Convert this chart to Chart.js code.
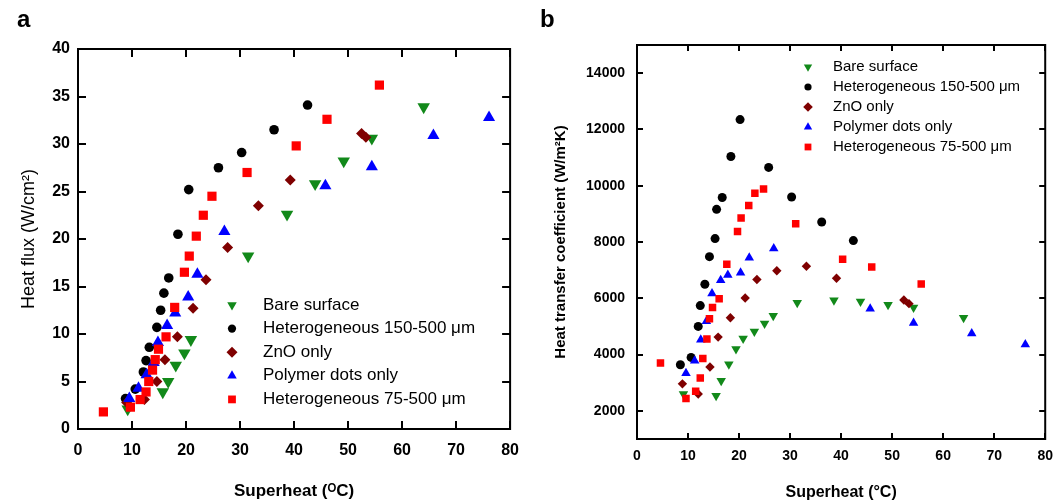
<!DOCTYPE html>
<html>
<head>
<meta charset="utf-8">
<script src="https://cdn.jsdelivr.net/npm/chart.js@4.4.1/dist/chart.umd.min.js"></script>
<style>
  html, body { margin: 0; padding: 0; background: #fff; }
  #wrap { position: relative; width: 1062px; height: 502px; }
  .box { position: absolute; top: 0; width: 531px; height: 502px; }
  .lbl { position: absolute; top: 5px; font: bold 24px "Liberation Sans", Arial, sans-serif; color: #000; }
</style>
</head>
<body>
<div id="wrap">
  <div class="box" style="left:0"><canvas id="chartA" width="531" height="502"></canvas></div>
  <div class="box" style="left:531px"><canvas id="chartB" width="531" height="502"></canvas></div>
  <div class="lbl" style="left:17px">a</div>
  <div class="lbl" style="left:540px">b</div>
</div>
<script>
// series names (legend order)
const seriesNames = ['Bare surface', 'Heterogeneous 150-500 μm', 'ZnO only', 'Polymer dots only', 'Heterogeneous 75-500 μm'];

// tick values
const xTicks = [0, 10, 20, 30, 40, 50, 60, 70, 80];
const yTicksA = [0, 5, 10, 15, 20, 25, 30, 35, 40];
const yTicksB = [2000, 4000, 6000, 8000, 10000, 12000, 14000];

// panel a : superheat (°C) / heat flux (W/cm2)
const bareA_x = [9.2, 15.7, 16.7, 18.1, 19.7, 20.9, 31.5, 38.7, 43.9, 49.2, 54.4, 64.0];
const bareA_q = [2.1, 3.9, 5.0, 6.7, 8.0, 9.4, 18.2, 22.6, 25.8, 28.2, 30.6, 33.9];
const het150A_x = [8.8, 10.6, 12.1, 12.6, 13.2, 14.6, 15.3, 15.9, 16.8, 18.5, 20.5, 26.0, 30.3, 36.3, 42.5];
const het150A_q = [3.2, 4.2, 6.0, 7.2, 8.6, 10.7, 12.5, 14.3, 15.9, 20.5, 25.2, 27.5, 29.1, 31.5, 34.1];
const znoA_x = [9.0, 12.3, 14.6, 16.1, 18.4, 21.3, 23.7, 27.7, 33.4, 39.3, 52.5, 53.3];
const znoA_q = [2.8, 3.1, 5.0, 7.3, 9.7, 12.7, 15.7, 19.1, 23.5, 26.2, 31.1, 30.7];
const polyA_x = [9.5, 11.2, 12.7, 14.0, 14.8, 16.5, 18.0, 20.4, 22.1, 27.1, 45.8, 54.4, 65.8, 76.1];
const polyA_q = [3.2, 4.3, 5.7, 7.0, 9.1, 10.9, 12.2, 13.9, 16.3, 20.8, 25.6, 27.6, 30.9, 32.8];
const het75A_x = [4.7, 9.7, 11.5, 12.6, 13.1, 13.8, 14.3, 14.9, 16.3, 17.9, 19.7, 20.6, 21.9, 23.2, 24.8, 31.3, 40.4, 46.1, 55.8];
const het75A_q = [1.8, 2.3, 3.1, 3.9, 5.0, 6.2, 7.3, 8.4, 9.7, 12.8, 16.5, 18.2, 20.3, 22.5, 24.5, 27.0, 29.8, 32.6, 36.2];

// panel b : superheat (°C) / heat transfer coefficient (W/m2K)
const bareB_x = [9.1, 15.5, 16.5, 18.0, 19.4, 20.8, 23.0, 25.0, 26.7, 31.4, 38.6, 43.8, 49.2, 54.2, 64.0];
const bareB_h = [2600, 2540, 3070, 3660, 4200, 4570, 4820, 5100, 5380, 5840, 5930, 5890, 5770, 5670, 5310];
const het150B_x = [8.5, 10.6, 12.0, 12.4, 13.3, 14.2, 15.3, 15.6, 16.7, 18.4, 20.2, 25.8, 30.3, 36.2, 42.4];
const het150B_h = [3640, 3900, 5000, 5740, 6500, 7480, 8120, 9160, 9580, 11040, 12350, 10650, 9600, 8710, 8050];
const znoB_x = [8.9, 12.0, 14.3, 15.9, 18.3, 21.2, 23.5, 27.4, 33.2, 39.1, 52.3, 53.3];
const znoB_h = [2960, 2600, 3560, 4620, 5310, 6010, 6670, 6980, 7140, 6710, 5940, 5810];
const polyB_x = [9.6, 11.3, 12.5, 13.6, 14.7, 16.4, 17.8, 20.3, 22.0, 26.8, 45.7, 54.2, 65.6, 76.1];
const polyB_h = [3340, 3780, 4530, 5180, 6170, 6640, 6830, 6910, 7440, 7770, 5630, 5120, 4750, 4360];
const het75B_x = [4.6, 9.6, 11.5, 12.4, 12.9, 13.7, 14.2, 14.8, 16.1, 17.6, 19.7, 20.4, 21.9, 23.1, 24.8, 31.1, 40.3, 46.0, 55.7];
const het75B_h = [3700, 2440, 2700, 3170, 3860, 4550, 5270, 5670, 5980, 7210, 8370, 8850, 9300, 9730, 9880, 8650, 7390, 7110, 6510];

// styles
const colors = ['#12891a', '#000000', '#7f0000', '#0000ff', '#ff0000'];
const styles = ['triangle', 'circle', 'rectRot', 'triangle', 'rect'];
const rotations = [180, 0, 0, 0, 0];

const FONT = '"Liberation Sans", Arial, sans-serif';

function pts(xs, ys) {
  return xs.map((v, i) => ({ x: v, y: ys[i] }));
}

function makeSets(pairs, radii) {
  return pairs.map((p, i) => ({
    label: seriesNames[i],
    data: pts(p[0], p[1]),
    pointStyle: styles[i],
    pointRotation: rotations[i],
    pointRadius: radii[i],
    pointBackgroundColor: colors[i],
    pointBorderWidth: 0,
    showLine: false,
    order: 4 - i
  }));
}

// frame round the plot with inward ticks
const framePlugin = {
  id: 'frame',
  afterDatasetsDraw(chart, args, opts) {
    const { ctx, chartArea: a, scales: { x, y } } = chart;
    ctx.save();
    ctx.strokeStyle = '#000';
    ctx.lineWidth = opts.width;
    ctx.strokeRect(a.left, a.top, a.right - a.left, a.bottom - a.top);
    ctx.beginPath();
    x.ticks.forEach(t => {
      const px = Math.round(x.getPixelForValue(t.value));
      ctx.moveTo(px, a.bottom); ctx.lineTo(px, a.bottom - opts.len);
      ctx.moveTo(px, a.top); ctx.lineTo(px, a.top + opts.len);
    });
    y.ticks.forEach(t => {
      const py = Math.round(y.getPixelForValue(t.value));
      ctx.moveTo(a.left, py); ctx.lineTo(a.left + opts.len, py);
      ctx.moveTo(a.right, py); ctx.lineTo(a.right - opts.len, py);
    });
    ctx.stroke();
    ctx.restore();
  }
};

// legend drawn inside the plot
const boxLegend = {
  id: 'boxLegend',
  afterDatasetsDraw(chart, args, opts) {
    const ctx = chart.ctx;
    ctx.save();
    chart.data.datasets.forEach((ds, i) => {
      const yy = opts.y + i * opts.gap;
      ctx.fillStyle = colors[i];
      Chart.helpers.drawPoint(ctx, {
        pointStyle: styles[i], rotation: rotations[i],
        radius: styles[i] === 'circle' ? opts.radius * 0.75 : opts.radius, borderWidth: 0
      }, opts.x, yy);
      ctx.fillStyle = '#000';
      ctx.font = opts.font;
      ctx.textBaseline = 'middle';
      ctx.textAlign = 'left';
      ctx.fillText(ds.label, opts.textX, yy);
    });
    ctx.restore();
  }
};

function makeChart(id, cfg) {
  return new Chart(document.getElementById(id), {
    type: 'scatter',
    data: { datasets: cfg.datasets },
    options: {
      responsive: false,
      animation: false,
      devicePixelRatio: 1,
      layout: { padding: cfg.padding },
      plugins: {
        legend: { display: false },
        tooltip: { enabled: false },
        frame: { width: 2, len: cfg.tickLen },
        boxLegend: cfg.legend
      },
      scales: {
        x: {
          type: 'linear', min: 0, max: 80,
          afterBuildTicks: s => { s.ticks = xTicks.map(v => ({ value: v })); },
          afterFit: s => { s.height = cfg.xHeight; },
          grid: { display: false, drawTicks: false },
          border: { display: false },
          ticks: { padding: cfg.xPad, color: '#000', font: { family: FONT, size: cfg.tickSize, weight: 'bold' }, maxRotation: 0 },
          title: { display: true, text: cfg.xTitle, color: '#000', padding: 0, font: { family: FONT, size: cfg.xTitleSize, weight: 'bold', lineHeight: 1.2 } }
        },
        y: {
          type: 'linear', min: cfg.yMin, max: cfg.yMax,
          afterBuildTicks: s => { s.ticks = cfg.yTicks.map(v => ({ value: v })); },
          afterFit: s => { s.width = cfg.yWidth; },
          grid: { display: false, drawTicks: false },
          border: { display: false },
          ticks: { padding: cfg.yPad, color: '#000', font: { family: FONT, size: cfg.tickSize, weight: 'bold' }, callback: v => String(v) },
          title: { display: true, text: cfg.yTitle, color: '#000', padding: { top: cfg.yTitlePad }, font: { family: FONT, size: cfg.yTitleSize, weight: cfg.yTitleWeight, lineHeight: 1.2 } }
        }
      }
    },
    plugins: [framePlugin, boxLegend]
  });
}

makeChart('chartA', {
  datasets: makeSets([[bareA_x, bareA_q], [het150A_x, het150A_q], [znoA_x, znoA_q], [polyA_x, polyA_q], [het75A_x, het75A_q]], [7.2, 4.8, 5.5, 7, 6.5]),
  padding: { left: 0, right: 19, top: 49, bottom: 0 },
  xHeight: 73, yWidth: 78, xPad: 12, yPad: 8, tickSize: 16, tickLen: 8,
  yMin: 0, yMax: 40, yTicks: yTicksA,
  xTitle: 'Superheat (\u1D3CC)', xTitleSize: 17,
  yTitle: 'Heat flux (W/cm\u00B2)', yTitleSize: 18, yTitleWeight: 'normal', yTitlePad: 18,
  legend: { x: 232, textX: 263, y: 305, gap: 23.6, radius: 5.5, font: '17px ' + FONT }
});

makeChart('chartB', {
  datasets: makeSets([[bareB_x, bareB_h], [het150B_x, het150B_h], [znoB_x, znoB_h], [polyB_x, polyB_h], [het75B_x, het75B_h]], [5.5, 4.5, 4.7, 5.5, 5.3]),
  padding: { left: 0, right: 11, top: 45, bottom: 0 },
  xHeight: 63, yWidth: 106, xPad: 9, yPad: 12, tickSize: 14, tickLen: 6,
  yMin: 1000, yMax: 15000, yTicks: yTicksB,
  xTitle: 'Superheat (\u00B0C)', xTitleSize: 16,
  yTitle: 'Heat transfer coefficient (W/m\u00B2K)', yTitleSize: 15, yTitleWeight: 'bold', yTitlePad: 21,
  legend: { x: 277, textX: 302, y: 67, gap: 20, radius: 4.8, font: '15px ' + FONT }
});
</script>
</body>
</html>
